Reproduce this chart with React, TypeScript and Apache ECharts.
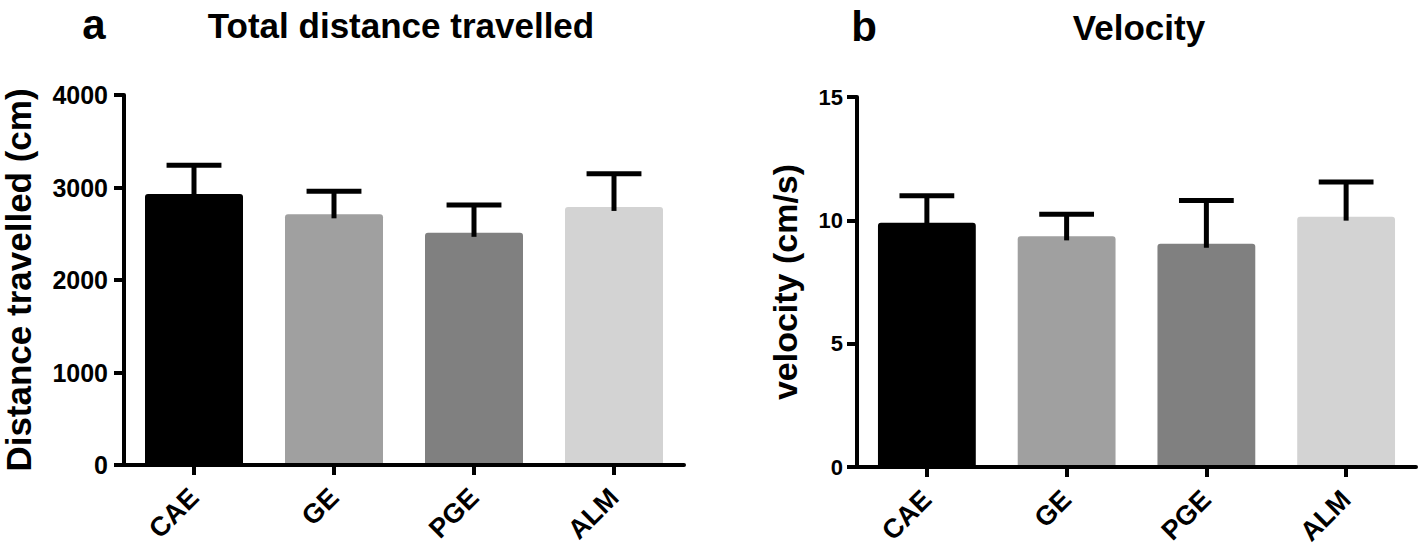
import React, { useEffect, useRef } from "react";
import * as echarts from "echarts";

const categories = ["CAE", "GE", "PGE", "ALM"];
const barColors = ["#000000", "#a0a0a0", "#808080", "#d3d3d3"];
const distanceMean = [2930, 2710, 2510, 2790];
const distanceErr = [310, 250, 300, 360];
const velocityMean = [9.9, 9.35, 9.05, 10.15];
const velocityErr = [1.1, 0.9, 1.75, 1.4];
const distanceTicks = { min: 0, max: 4000, interval: 1000 };
const velocityTicks = { min: 0, max: 15, interval: 5 };

const FONT = "'Liberation Sans', Arial, sans-serif";

function errorRender(params: any, api: any) {
  const x = api.value(0);
  const mean = api.value(1);
  const top = api.value(2);
  const p0 = api.coord([x, mean]);
  const p1 = api.coord([x, top]);
  const band = api.size([1, 0])[0];
  const half = band * 0.7 * 0.28;
  const style = { stroke: "#000", lineWidth: 5 };
  return {
    type: "group",
    children: [
      { type: "line", shape: { x1: p0[0], y1: p0[1] + 4, x2: p1[0], y2: p1[1] }, style },
      { type: "line", shape: { x1: p1[0] - half, y1: p1[1], x2: p1[0] + half, y2: p1[1] }, style },
    ],
  };
}

function barData(values: number[]) {
  return values.map((v, i) => ({
    value: v,
    itemStyle: { color: barColors[i], borderRadius: [3, 3, 0, 0] },
  }));
}

function errData(mean: number[], err: number[]) {
  return mean.map((m, i) => [i, m, m + err[i]]);
}

const axisLineStyle = { lineStyle: { color: "#000", width: 4 } };

function xAxisFor(gridIndex: number) {
  return {
    type: "category",
    gridIndex,
    data: categories,
    z: 5,
    axisLine: { show: true, ...axisLineStyle },
    axisTick: { show: true, alignWithLabel: true, length: 10, lineStyle: { color: "#000", width: 4 } },
    axisLabel: {
      rotate: 45,
      margin: 28,
      color: "#000",
      fontFamily: FONT,
      fontWeight: "bold",
      fontSize: 27,
    },
  };
}

const plain = (v: number) => String(v);

export default function App() {
  const ref = useRef<HTMLDivElement>(null);
  useEffect(() => {
    if (!ref.current) return;
    const chart = echarts.init(ref.current, undefined, { renderer: "svg" });
    chart.setOption({
      animation: false,
      backgroundColor: "#fff",
      grid: [
        { left: 124, right: 1418 - 684, top: 95, bottom: 550 - 465 },
        { left: 857, right: 2, top: 97, bottom: 550 - 467 },
      ],
      xAxis: [xAxisFor(0), xAxisFor(1)],
      yAxis: [
        {
          type: "value",
          gridIndex: 0,
          ...distanceTicks,
          name: "Distance travelled (cm)",
          nameLocation: "middle",
          nameGap: 88,
          nameTextStyle: { color: "#000", fontFamily: FONT, fontWeight: "bold", fontSize: 35 },
          splitLine: { show: false },
          axisLine: { show: true, ...axisLineStyle },
          axisTick: { show: true, length: 10, lineStyle: { color: "#000", width: 4 } },
          axisLabel: { margin: 16, color: "#000", fontFamily: FONT, fontWeight: "bold", fontSize: 25, formatter: plain },
        },
        {
          type: "value",
          gridIndex: 1,
          ...velocityTicks,
          name: "velocity (cm/s)",
          nameLocation: "middle",
          nameGap: 55,
          nameTextStyle: { color: "#000", fontFamily: FONT, fontWeight: "bold", fontSize: 34 },
          splitLine: { show: false },
          axisLine: { show: true, ...axisLineStyle },
          axisTick: { show: true, length: 10, lineStyle: { color: "#000", width: 4 } },
          axisLabel: { margin: 14, color: "#000", fontFamily: FONT, fontWeight: "bold", fontSize: 22, formatter: plain },
        },
      ],
      series: [
        {
          type: "bar",
          xAxisIndex: 0,
          yAxisIndex: 0,
          barWidth: "70%",
          data: barData(distanceMean),
          z: 2,
        },
        {
          type: "custom",
          xAxisIndex: 0,
          yAxisIndex: 0,
          renderItem: errorRender,
          data: errData(distanceMean, distanceErr),
          z: 3,
        },
        {
          type: "bar",
          xAxisIndex: 1,
          yAxisIndex: 1,
          barWidth: "70%",
          data: barData(velocityMean),
          z: 2,
        },
        {
          type: "custom",
          xAxisIndex: 1,
          yAxisIndex: 1,
          renderItem: errorRender,
          data: errData(velocityMean, velocityErr),
          z: 3,
        },
      ],
      graphic: [
        { type: "text", x: 94, y: 24, style: { text: "a", font: `bold 42px ${FONT}`, fill: "#000", align: "center", verticalAlign: "middle" } },
        { type: "text", x: 401, y: 25, style: { text: "Total distance travelled", font: `bold 35px ${FONT}`, fill: "#000", align: "center", verticalAlign: "middle" } },
        { type: "text", x: 864, y: 26, style: { text: "b", font: `bold 42px ${FONT}`, fill: "#000", align: "center", verticalAlign: "middle" } },
        { type: "text", x: 1139, y: 27, style: { text: "Velocity", font: `bold 35px ${FONT}`, fill: "#000", align: "center", verticalAlign: "middle" } },
      ],
    });
    return () => chart.dispose();
  }, []);
  return <div ref={ref} style={{ position: "fixed", left: 0, top: 0, width: 1418, height: 550 }} />;
}
